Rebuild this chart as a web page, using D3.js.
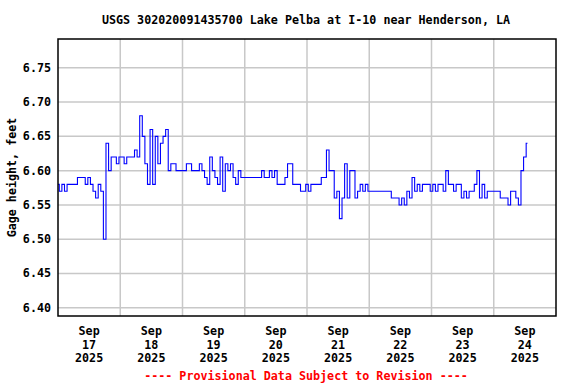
<!DOCTYPE html>
<html>
<head>
<meta charset="utf-8">
<script src="https://cdn.jsdelivr.net/npm/d3@7"></script>
<style>
  body { margin: 0; background: #fff; }
  text { font-family: "DejaVu Sans Mono", monospace; font-weight: bold; }
</style>
</head>
<body>
<div id="chart"></div>
<script>
// gage height, hourly from Sep 17 2025 00:00 (UTC used as local clock)
const startTime = Date.UTC(2025, 8, 17, 0, 0);
const gageHeight = [
  6.58, 6.57, 6.58, 6.57, 6.58, 6.58, 6.58, 6.58, 6.59, 6.59,
  6.59, 6.58, 6.59, 6.58, 6.57, 6.56, 6.58, 6.57, 6.50, 6.64,
  6.60, 6.62, 6.62, 6.61, 6.62, 6.62, 6.61, 6.62, 6.62, 6.62,
  6.63, 6.62, 6.68, 6.65, 6.61, 6.58, 6.66, 6.58, 6.65, 6.61,
  6.64, 6.65, 6.66, 6.60, 6.61, 6.61, 6.60, 6.60, 6.60, 6.60,
  6.61, 6.61, 6.60, 6.60, 6.60, 6.61, 6.60, 6.59, 6.58, 6.62,
  6.60, 6.59, 6.58, 6.62, 6.57, 6.61, 6.60, 6.61, 6.59, 6.58,
  6.60, 6.59, 6.59, 6.59, 6.59, 6.59, 6.59, 6.59, 6.59, 6.60,
  6.59, 6.59, 6.60, 6.59, 6.60, 6.58, 6.58, 6.58, 6.59, 6.61,
  6.61, 6.58, 6.58, 6.58, 6.57, 6.57, 6.58, 6.57, 6.58, 6.58,
  6.58, 6.58, 6.59, 6.59, 6.63, 6.60, 6.60, 6.56, 6.57, 6.53,
  6.56, 6.61, 6.56, 6.60, 6.60, 6.56, 6.57, 6.58, 6.57, 6.58,
  6.57, 6.57, 6.57, 6.57, 6.57, 6.57, 6.57, 6.57, 6.57, 6.56,
  6.56, 6.56, 6.55, 6.56, 6.55, 6.57, 6.56, 6.59, 6.57, 6.58,
  6.57, 6.58, 6.58, 6.58, 6.57, 6.58, 6.57, 6.58, 6.58, 6.57,
  6.60, 6.58, 6.58, 6.57, 6.58, 6.58, 6.56, 6.57, 6.56, 6.57,
  6.57, 6.58, 6.60, 6.56, 6.58, 6.56, 6.57, 6.57, 6.57, 6.57,
  6.57, 6.56, 6.56, 6.56, 6.55, 6.57, 6.57, 6.56, 6.55, 6.60,
  6.62, 6.64
];
const dayLabels = ["17", "18", "19", "20", "21", "22", "23", "24"];
const yTicks = [6.40, 6.45, 6.50, 6.55, 6.60, 6.65, 6.70, 6.75];

const width = 576, height = 384;
const margin = { top: 39, right: 20, bottom: 68, left: 58 };

const data = gageHeight.map((v, i) => ({ t: new Date(startTime + i * 3600e3), v }));

const svg = d3.select("#chart").append("svg")
  .attr("width", width).attr("height", height)
  .style("background", "#fff");

const x = d3.scaleUtc()
  .domain([new Date(startTime), new Date(Date.UTC(2025, 8, 25, 0, 0))])
  .range([margin.left, width - margin.right]);
const y = d3.scaleLinear()
  .domain([6.388, 6.792])
  .range([height - margin.bottom, margin.top]);

// grid
const days = d3.utcDay.range(x.domain()[0], x.domain()[1]);
svg.append("g").selectAll("line").data(days.slice(1)).join("line")
  .attr("x1", d => x(d)).attr("x2", d => x(d))
  .attr("y1", margin.top).attr("y2", height - margin.bottom)
  .attr("stroke", "#c8c8c8").attr("stroke-width", 1.5);
svg.append("g").selectAll("line").data(yTicks).join("line")
  .attr("x1", margin.left).attr("x2", width - margin.right)
  .attr("y1", d => y(d)).attr("y2", d => y(d))
  .attr("stroke", "#c8c8c8").attr("stroke-width", 1.5);

// y labels
svg.append("g").selectAll("text").data(yTicks).join("text")
  .attr("x", margin.left - 7).attr("y", d => y(d) + 4)
  .attr("text-anchor", "end").attr("font-size", 11.7)
  .text(d => d.toFixed(2));

// x labels at noon
const noons = days.map(d => d3.utcHour.offset(d, 12));
const xl = svg.append("g").selectAll("text").data(noons).join("text")
  .attr("text-anchor", "middle").attr("font-size", 11.7);
xl.each(function(d, i) {
  const t = d3.select(this);
  ["Sep", dayLabels[i], "2025"].forEach((s, k) => {
    t.append("tspan").attr("x", x(d)).attr("y", 335 + k * 13.7).text(s);
  });
});

// line
const line = d3.line()
  .x(d => x(d.t)).y(d => y(d.v))
  .curve(d3.curveStep);
svg.append("path").datum(data)
  .attr("d", line)
  .attr("fill", "none").attr("stroke", "#0000ff").attr("stroke-width", 1.1);

// frame
svg.append("rect")
  .attr("x", margin.left).attr("y", margin.top)
  .attr("width", width - margin.left - margin.right)
  .attr("height", height - margin.top - margin.bottom)
  .attr("fill", "none").attr("stroke", "#000").attr("stroke-width", 1.5);

// titles
svg.append("text")
  .attr("x", 306).attr("y", 24).attr("text-anchor", "middle").attr("font-size", 11.7)
  .text("USGS 302020091435700 Lake Pelba at I-10 near Henderson, LA");
svg.append("text")
  .attr("transform", `translate(16,${(margin.top + height - margin.bottom) / 2}) rotate(-90)`)
  .attr("text-anchor", "middle").attr("font-size", 11.7)
  .text("Gage height, feet");
svg.append("text")
  .attr("x", 306).attr("y", 380).attr("text-anchor", "middle").attr("font-size", 11.7)
  .attr("fill", "#ff0000")
  .text("---- Provisional Data Subject to Revision ----");
</script>
</body>
</html>
